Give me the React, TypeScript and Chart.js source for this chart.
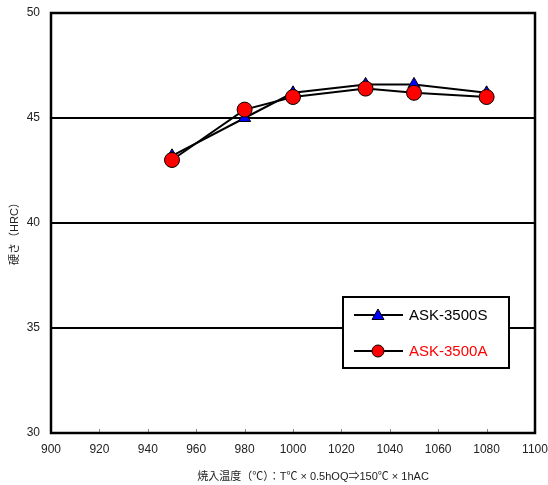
import React, { useEffect, useRef } from 'react';
import { Chart, registerables, Plugin } from 'chart.js';

Chart.register(...registerables);

const temps = [950, 980, 1000, 1030, 1050, 1080];
const hardnessS = [43.2, 45.0, 46.2, 46.6, 46.6, 46.2];
const hardnessA = [43.0, 45.4, 46.0, 46.4, 46.2, 46.0];
const seriesNames = ['ASK-3500S', 'ASK-3500A'];
const yTitle = '硬さ（HRC）';
const xTitle = '焼入温度（℃）：T℃ × 0.5hOQ⇒150℃ × 1hAC';

const JP_FONT = '"Liberation Sans", "Noto Sans CJK JP", sans-serif';
const LAT_FONT = '"Liberation Sans", Arial, sans-serif';

// frame, inner x ticks, axis titles and the boxed legend
const decor: Plugin<'line'> = {
  id: 'decor',
  afterDraw(chart) {
    const { ctx, chartArea: a } = chart;
    const xs = chart.scales.x;
    ctx.save();
    // inner tick marks on the bottom axis
    ctx.strokeStyle = '#888';
    ctx.lineWidth = 1;
    for (let v = 920; v < 1100; v += 20) {
      const px = Math.round(xs.getPixelForValue(v)) + 0.5;
      ctx.beginPath();
      ctx.moveTo(px, a.bottom);
      ctx.lineTo(px, a.bottom - 4);
      ctx.stroke();
    }
    // plot frame
    ctx.strokeStyle = '#000';
    ctx.lineWidth = 2.5;
    ctx.strokeRect(a.left, a.top, a.right - a.left, a.bottom - a.top);

    // titles
    ctx.fillStyle = '#222';
    ctx.font = `11px ${JP_FONT}`;
    ctx.textAlign = 'center';
    ctx.textBaseline = 'middle';
    ctx.fillText(xTitle, 313, 477);
    ctx.save();
    ctx.translate(15, 231);
    ctx.rotate(-Math.PI / 2);
    ctx.fillText(yTitle, 0, 0);
    ctx.restore();

    // legend
    const lx = 343, ly = 297, lw = 166, lh = 71;
    ctx.fillStyle = '#fff';
    ctx.fillRect(lx, ly, lw, lh);
    ctx.strokeStyle = '#000';
    ctx.lineWidth = 2;
    ctx.strokeRect(lx, ly, lw, lh);
    const rows = [
      { y: 315, name: seriesNames[0], color: '#000', marker: 'tri' },
      { y: 351, name: seriesNames[1], color: '#ff0000', marker: 'circ' },
    ];
    rows.forEach((r) => {
      ctx.strokeStyle = '#000';
      ctx.lineWidth = 2;
      ctx.beginPath();
      ctx.moveTo(354, r.y);
      ctx.lineTo(403, r.y);
      ctx.stroke();
      ctx.lineWidth = 1;
      ctx.beginPath();
      if (r.marker === 'tri') {
        ctx.moveTo(378, r.y - 6);
        ctx.lineTo(384, r.y + 4.5);
        ctx.lineTo(372, r.y + 4.5);
        ctx.closePath();
        ctx.fillStyle = '#0000ff';
      } else {
        ctx.arc(378, r.y, 6, 0, Math.PI * 2);
        ctx.fillStyle = '#ff0000';
      }
      ctx.fill();
      ctx.stroke();
      ctx.fillStyle = r.color;
      ctx.font = `15px ${LAT_FONT}`;
      ctx.textAlign = 'left';
      ctx.fillText(r.name, 409, r.y + 1);
    });
    ctx.restore();
  },
};

export default function App() {
  const canvasRef = useRef<HTMLCanvasElement | null>(null);

  useEffect(() => {
    document.body.style.margin = '0';
    if (!canvasRef.current) return;
    const chart = new Chart(canvasRef.current, {
      type: 'line',
      data: {
        labels: temps,
        datasets: [
          {
            label: seriesNames[1],
            data: temps.map((t, i) => ({ x: t, y: hardnessA[i] })),
            borderColor: '#000',
            borderWidth: 2,
            backgroundColor: '#ff0000',
            pointStyle: 'circle',
            pointRadius: 7.5,
            pointBorderWidth: 1,
            pointBorderColor: '#000',
            pointBackgroundColor: '#ff0000',
            tension: 0,
          },
          {
            label: seriesNames[0],
            data: temps.map((t, i) => ({ x: t, y: hardnessS[i] })),
            borderColor: '#000',
            borderWidth: 2,
            backgroundColor: '#0000ff',
            pointStyle: 'triangle',
            pointRadius: 7,
            pointBorderWidth: 1,
            pointBorderColor: '#000',
            pointBackgroundColor: '#0000ff',
            tension: 0,
          },
        ],
      },
      options: {
        responsive: false,
        animation: false,
        layout: { padding: { top: 13, right: 13, left: 0, bottom: 0 } },
        plugins: { legend: { display: false }, tooltip: { enabled: false } },
        scales: {
          x: {
            type: 'linear',
            min: 900,
            max: 1100,
            ticks: {
              stepSize: 20,
              color: '#222',
              font: { size: 12, family: LAT_FONT },
              padding: 9,
              maxRotation: 0,
              callback: (v) => String(v),
            },
            grid: { display: false, drawTicks: false },
            border: { display: false },
            afterFit: (s) => {
              s.height = 52;
              s.paddingLeft = 0;
              s.paddingRight = 0;
            },
          },
          y: {
            min: 30,
            max: 50,
            ticks: {
              stepSize: 5,
              color: '#222',
              font: { size: 12, family: LAT_FONT },
              padding: 11,
            },
            grid: { color: '#000', lineWidth: 2, drawTicks: false },
            border: { display: false },
            afterFit: (s) => {
              s.width = 51;
              s.paddingTop = 0;
              s.paddingBottom = 0;
            },
          },
        },
      },
      plugins: [decor],
    });
    return () => chart.destroy();
  }, []);

  return (
    <div style={{ width: 548, height: 485, background: '#fff' }}>
      <canvas ref={canvasRef} width={548} height={485} />
    </div>
  );
}
